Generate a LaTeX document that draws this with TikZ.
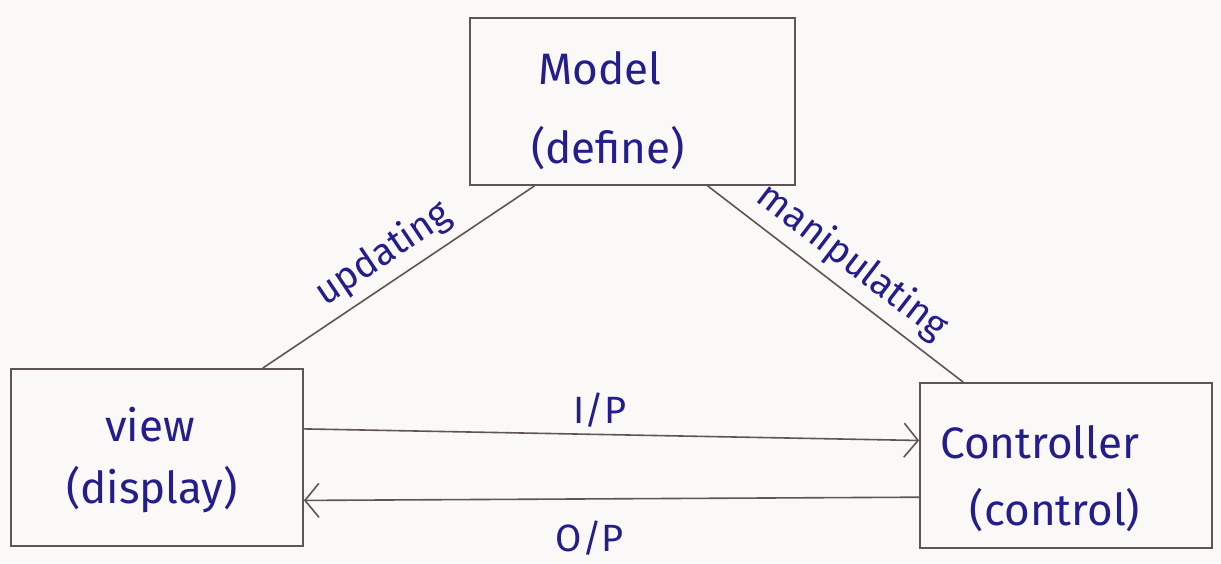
\documentclass[tikz,border=0pt]{standalone}
\usepackage{fontspec}
\setmainfont{Fira Sans}
\usetikzlibrary{arrows.meta,calc}
\definecolor{ink}{RGB}{35,30,140}
\definecolor{pencil}{RGB}{95,85,85}
\definecolor{paper}{RGB}{250,249,247}
\begin{document}
\begin{tikzpicture}[x=1pt,y=-1pt,
  box/.style={draw=pencil,line width=1.8pt,inner sep=0pt},
  txt/.style={text=ink,font=\fontsize{44}{50}\selectfont,inner sep=0pt},
  lbl/.style={text=ink,font=\fontsize{38}{44}\selectfont,inner sep=0pt},
  wire/.style={draw=pencil,line width=1.6pt},
  arr/.style={wire,-{Straight Barb[length=14pt,width=34pt,line width=1.6pt]}}]
\fill[paper] (0,0) rectangle (1221,563);
\useasboundingbox (0,0) rectangle (1221,563);
% boxes
\node[box,minimum width=325pt,minimum height=167pt] (model) at (632.5,101.5) {};
\node[box,minimum width=292pt,minimum height=177pt] (view) at (157,457.5) {};
\node[box,minimum width=292pt,minimum height=165pt] (ctrl) at (1066,465.5) {};
% texts
\node[txt] (modelA) at (600,68) {Model};
\node[txt] (modelB) at (608,148) {(define)};
\node[txt] (viewA) at (150,425) {view};
\node[txt] (viewB) at (152,490) {(display)};
\node[txt] (ctrlA) at (1040,442) {Controller};
\node[txt] (ctrlB) at (1055,510) {(control)};
% connector ends
\coordinate (mL) at ($(model.south west)!0.2!(model.south east)$);
\coordinate (mR) at ($(model.south west)!0.73!(model.south east)$);
\coordinate (vT) at ($(view.north west)!0.86!(view.north east)$);
\coordinate (cT) at ($(ctrl.north west)!0.15!(ctrl.north east)$);
\draw[wire] (vT) -- (mL) node[lbl,midway,sloped,above=8pt] (upd) {updating};
\draw[wire] (mR) -- (cT) node[lbl,midway,sloped,above=8pt] (man) {manipulating};
% I/P and O/P arrows
\coordinate (v1) at ($(view.north east)!0.34!(view.south east)$);
\coordinate (c1) at ($(ctrl.north west)!0.35!(ctrl.south west)$);
\coordinate (c2) at ($(ctrl.north west)!0.69!(ctrl.south west)$);
\coordinate (v2) at ($(view.north east)!0.74!(view.south east)$);
\draw[arr] (v1) -- (c1);
\draw[arr] (c2) -- (v2);
\node[lbl] (ip) at (600,410) {I/P};
\node[lbl] (op) at (590,538) {O/P};
\end{tikzpicture}
\end{document}
